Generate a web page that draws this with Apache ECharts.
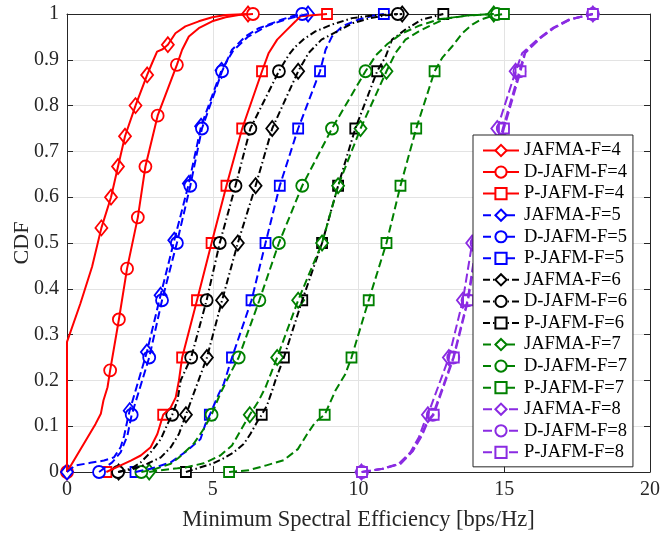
<!DOCTYPE html>
<html>
<head>
<meta charset="utf-8">
<script src="https://cdn.jsdelivr.net/npm/echarts@6/dist/echarts.min.js"></script>
<style>
  html, body { margin: 0; padding: 0; background: #fff; }
  #chart { width: 662px; height: 534px; }
</style>
</head>
<body>
<div id="chart"></div>
<script>
// Axis ticks
const xTicks = [0, 5, 10, 15, 20];
const yTicks = [0, 0.1, 0.2, 0.3, 0.4, 0.5, 0.6, 0.7, 0.8, 0.9, 1];

// ---- F = 4 ----
const jafmaF4 = [[0,0],[0,0.284],[0.46,0.368],[0.86,0.448],[1.18,0.533],[1.51,0.6],[1.75,0.667],[1.99,0.733],[2.35,0.8],[2.75,0.867],[2.92,0.893],[3.09,0.918],[3.28,0.923],[3.46,0.933],[3.72,0.958],[4.06,0.973],[4.52,0.984],[4.98,0.993],[5.44,0.998],[6.21,1]];
const jafmaF4Marks = [[0,0],[1.18,0.533],[1.51,0.6],[1.75,0.667],[1.99,0.733],[2.35,0.8],[2.75,0.867],[3.46,0.933],[6.21,1]];
const dJafmF4 = [[0,0],[0.98,0.105],[1.16,0.127],[1.25,0.156],[1.39,0.185],[1.48,0.222],[1.78,0.333],[2.06,0.444],[2.43,0.556],[2.69,0.667],[3.11,0.778],[3.77,0.889],[3.95,0.922],[4.18,0.951],[4.52,0.969],[4.98,0.984],[5.44,0.993],[5.89,0.998],[6.38,1]];
const dJafmF4Marks = [[0,0],[1.48,0.222],[1.78,0.333],[2.06,0.444],[2.43,0.556],[2.69,0.667],[3.11,0.778],[3.77,0.889],[6.38,1]];
const pJafmF4 = [[1.35,0],[2.19,0.025],[2.53,0.036],[2.87,0.054],[3.1,0.083],[3.3,0.125],[3.56,0.141],[3.73,0.163],[3.84,0.2],[3.95,0.25],[4.46,0.375],[4.96,0.5],[5.47,0.625],[6.01,0.75],[6.69,0.875],[6.92,0.915],[7.21,0.944],[7.49,0.962],[7.84,0.984],[8.01,0.995],[8.92,1]];
const pJafmF4Marks = [[1.35,0],[3.3,0.125],[3.95,0.25],[4.46,0.375],[4.96,0.5],[5.47,0.625],[6.01,0.75],[6.69,0.875],[8.92,1]];

// ---- F = 5 ----
const jafmaF5 = [[0,0],[0.27,0.014],[0.8,0.02],[1.27,0.025],[1.61,0.032],[1.84,0.054],[1.96,0.079],[2.07,0.112],[2.15,0.134],[2.74,0.262],[3.21,0.386],[3.68,0.506],[4.18,0.63],[4.6,0.755],[5.3,0.877],[5.7,0.92],[6.2,0.95],[6.9,0.975],[7.5,0.988],[7.9,0.995],[8.27,1]];
const jafmaF5Marks = [[0,0],[2.15,0.134],[2.74,0.262],[3.21,0.386],[3.68,0.506],[4.18,0.63],[4.6,0.755],[5.3,0.877],[8.27,1]];
const dJafmF5 = [[1.1,0],[1.55,0.021],[1.84,0.043],[2.07,0.079],[2.22,0.125],[2.82,0.25],[3.26,0.375],[3.77,0.5],[4.23,0.625],[4.63,0.75],[5.32,0.875],[5.66,0.922],[6.12,0.951],[6.58,0.969],[6.92,0.977],[7.38,0.988],[7.72,0.995],[8.07,1]];
const dJafmF5Marks = [[1.1,0],[2.22,0.125],[2.82,0.25],[3.26,0.375],[3.77,0.5],[4.23,0.625],[4.63,0.75],[5.32,0.875],[8.07,1]];
const pJafmF5 = [[2.35,0],[2.87,0.007],[3.56,0.021],[4.13,0.047],[4.58,0.072],[4.75,0.105],[4.9,0.125],[5.21,0.171],[5.38,0.193],[5.66,0.25],[6.33,0.375],[6.81,0.5],[7.3,0.625],[7.93,0.75],[8.68,0.875],[8.87,0.922],[9.09,0.951],[9.44,0.973],[10.01,0.988],[10.47,0.996],[10.87,1]];
const pJafmF5Marks = [[2.35,0],[4.9,0.125],[5.66,0.25],[6.33,0.375],[6.81,0.5],[7.3,0.625],[7.93,0.75],[8.68,0.875],[10.87,1]];

// ---- F = 6 ----
const jafmaF6 = [[1.77,0],[2.3,0.007],[2.76,0.018],[3.22,0.032],[3.56,0.054],[3.84,0.083],[4.08,0.125],[4.8,0.25],[5.32,0.375],[5.86,0.5],[6.47,0.625],[7.04,0.75],[7.93,0.875],[8.29,0.915],[8.73,0.944],[9.27,0.962],[9.8,0.98],[10.4,0.991],[10.93,0.997],[11.5,1]];
const jafmaF6Marks = [[1.77,0],[4.08,0.125],[4.8,0.25],[5.32,0.375],[5.86,0.5],[6.47,0.625],[7.04,0.75],[7.93,0.875],[11.5,1]];
const dJafmF6 = [[1.75,0],[2.19,0.007],[2.53,0.021],[2.87,0.043],[3.22,0.072],[3.45,0.105],[3.61,0.125],[3.79,0.156],[3.9,0.2],[4.26,0.25],[4.79,0.375],[5.24,0.5],[5.78,0.625],[6.29,0.75],[7.27,0.875],[7.61,0.911],[7.84,0.929],[8.1,0.944],[8.52,0.962],[9.09,0.977],[9.78,0.991],[10.5,0.997],[11.35,1]];
const dJafmF6Marks = [[1.75,0],[3.61,0.125],[4.26,0.25],[4.79,0.375],[5.24,0.5],[5.78,0.625],[6.29,0.75],[7.27,0.875],[11.35,1]];
const pJafmF6 = [[4.08,0],[4.52,0.009],[4.98,0.018],[5.32,0.028],[5.72,0.043],[6.06,0.061],[6.29,0.083],[6.52,0.109],[6.68,0.125],[6.86,0.145],[7.04,0.178],[7.15,0.2],[7.44,0.25],[8.07,0.375],[8.75,0.5],[9.3,0.625],[9.89,0.75],[10.64,0.875],[10.93,0.907],[11.15,0.944],[11.61,0.966],[12.18,0.988],[12.91,1]];
const pJafmF6Marks = [[4.08,0],[6.68,0.125],[7.44,0.25],[8.07,0.375],[8.75,0.5],[9.3,0.625],[9.89,0.75],[10.64,0.875],[12.91,1]];

// ---- F = 7 ----
const jafmaF7 = [[2.82,0],[3.22,0.004],[3.79,0.008],[4.06,0.01],[4.69,0.019],[5.26,0.036],[5.66,0.058],[5.95,0.09],[6.27,0.125],[6.58,0.156],[6.81,0.185],[7.21,0.25],[7.93,0.375],[8.75,0.5],[9.3,0.625],[10.07,0.75],[10.96,0.875],[11.27,0.915],[11.61,0.944],[12.07,0.962],[12.53,0.977],[13.0,0.99],[13.8,0.997],[14.64,1]];
const jafmaF7Marks = [[2.82,0],[6.27,0.125],[7.21,0.25],[7.93,0.375],[8.75,0.5],[9.3,0.625],[10.07,0.75],[10.96,0.875],[14.64,1]];
const dJafmF7 = [[2.55,0],[3.0,0.006],[3.56,0.018],[3.83,0.031],[4.35,0.062],[4.7,0.095],[4.96,0.125],[5.25,0.17],[5.6,0.215],[5.89,0.25],[6.6,0.375],[7.27,0.5],[8.07,0.625],[9.09,0.75],[10.24,0.875],[10.6,0.91],[11.0,0.935],[11.5,0.958],[12.1,0.975],[12.8,0.989],[13.8,0.997],[14.75,1]];
const dJafmF7Marks = [[2.55,0],[4.96,0.125],[5.89,0.25],[6.6,0.375],[7.27,0.5],[8.07,0.625],[9.09,0.75],[10.24,0.875],[14.75,1]];
const pJafmF7 = [[5.56,0],[6.24,0.004],[6.81,0.014],[7.44,0.026],[7.92,0.05],[8.24,0.083],[8.52,0.109],[8.84,0.125],[8.98,0.145],[9.21,0.178],[9.55,0.214],[9.76,0.25],[10.35,0.375],[10.96,0.5],[11.44,0.625],[11.98,0.75],[12.61,0.875],[12.87,0.904],[13.21,0.929],[13.56,0.958],[13.9,0.977],[14.2,0.988],[14.6,0.996],[14.99,1]];
const pJafmF7Marks = [[5.56,0],[8.84,0.125],[9.76,0.25],[10.35,0.375],[10.96,0.5],[11.44,0.625],[11.98,0.75],[12.61,0.875],[14.99,1]];

// ---- F = 8 ----
const jafmaF8 = [[10.1,0],[10.81,0.007],[11.38,0.018],[11.78,0.043],[12.07,0.076],[12.24,0.105],[12.38,0.125],[13.1,0.25],[13.58,0.375],[13.9,0.5],[14.3,0.625],[14.76,0.75],[15.39,0.875],[15.62,0.915],[16.19,0.947],[16.65,0.969],[17.22,0.988],[18.04,1]];
const jafmaF8Marks = [[10.1,0],[12.38,0.125],[13.1,0.25],[13.58,0.375],[13.9,0.5],[14.3,0.625],[14.76,0.75],[15.39,0.875],[18.04,1]];
const dJafmF8 = [[10.12,0],[10.83,0.007],[11.42,0.018],[11.84,0.045],[12.15,0.08],[12.35,0.11],[12.55,0.125],[13.25,0.25],[13.74,0.375],[14.05,0.5],[14.45,0.625],[14.95,0.75],[15.52,0.875],[15.7,0.915],[16.22,0.947],[16.68,0.969],[17.25,0.988],[18.04,1]];
const dJafmF8Marks = [[10.12,0],[12.55,0.125],[13.25,0.25],[13.74,0.375],[14.05,0.5],[14.45,0.625],[14.95,0.75],[15.52,0.875],[18.04,1]];
const pJafmF8 = [[10.12,0],[10.85,0.007],[11.45,0.018],[11.86,0.045],[12.18,0.08],[12.38,0.11],[12.58,0.125],[13.27,0.25],[13.76,0.375],[14.08,0.5],[14.48,0.625],[14.99,0.75],[15.56,0.875],[15.72,0.915],[16.24,0.947],[16.7,0.969],[17.27,0.988],[18.04,1]];
const pJafmF8Marks = [[10.12,0],[12.58,0.125],[13.27,0.25],[13.76,0.375],[14.08,0.5],[14.48,0.625],[14.99,0.75],[15.56,0.875],[18.04,1]];

// Line styles per group
const SOLID = 'solid';
const DASH = [8, 4];
const DASHDOT = [7, 3, 1.5, 3];
const PDASH = [9, 4];

const RED = '#ff0000', BLUE = '#0000ff', BLACK = '#000000', GREEN = '#008000', PURPLE = '#8a2be2';
const DIAMOND = { symbol: 'diamond', size: [12, 15] };
const CIRCLE = { symbol: 'circle', size: 12 };
const SQUARE = { symbol: 'rect', size: 10 };

const curves = [
  { name: 'JAFMA-F=4',  line: jafmaF4, marks: jafmaF4Marks, color: RED, dash: SOLID, mk: DIAMOND },
  { name: 'D-JAFM-F=4', line: dJafmF4, marks: dJafmF4Marks, color: RED, dash: SOLID, mk: CIRCLE },
  { name: 'P-JAFM-F=4', line: pJafmF4, marks: pJafmF4Marks, color: RED, dash: SOLID, mk: SQUARE },
  { name: 'JAFMA-F=5',  line: jafmaF5, marks: jafmaF5Marks, color: BLUE, dash: DASH, mk: DIAMOND },
  { name: 'D-JAFM-F=5', line: dJafmF5, marks: dJafmF5Marks, color: BLUE, dash: DASH, mk: CIRCLE },
  { name: 'P-JAFM-F=5', line: pJafmF5, marks: pJafmF5Marks, color: BLUE, dash: DASH, mk: SQUARE },
  { name: 'JAFMA-F=6',  line: jafmaF6, marks: jafmaF6Marks, color: BLACK, dash: DASHDOT, mk: DIAMOND },
  { name: 'D-JAFM-F=6', line: dJafmF6, marks: dJafmF6Marks, color: BLACK, dash: DASHDOT, mk: CIRCLE },
  { name: 'P-JAFM-F=6', line: pJafmF6, marks: pJafmF6Marks, color: BLACK, dash: DASHDOT, mk: SQUARE },
  { name: 'JAFMA-F=7',  line: jafmaF7, marks: jafmaF7Marks, color: GREEN, dash: DASH, mk: DIAMOND },
  { name: 'D-JAFM-F=7', line: dJafmF7, marks: dJafmF7Marks, color: GREEN, dash: DASH, mk: CIRCLE },
  { name: 'P-JAFM-F=7', line: pJafmF7, marks: pJafmF7Marks, color: GREEN, dash: DASH, mk: SQUARE },
  { name: 'JAFMA-F=8',  line: jafmaF8, marks: jafmaF8Marks, color: PURPLE, dash: PDASH, mk: DIAMOND },
  { name: 'D-JAFM-F=8', line: dJafmF8, marks: dJafmF8Marks, color: PURPLE, dash: PDASH, mk: CIRCLE },
  { name: 'P-JAFM-F=8', line: pJafmF8, marks: pJafmF8Marks, color: PURPLE, dash: PDASH, mk: SQUARE }
];

const FONT = 'Liberation Serif';
const AXIS_COLOR = '#262626';
const GRID_COLOR = '#e3e3e3';

const series = [];
curves.forEach(c => {
  series.push({
    name: c.name,
    type: 'line',
    data: c.line,
    showSymbol: false,
    symbol: c.mk.symbol,
    symbolSize: c.mk.size,
    lineStyle: { color: c.color, width: 2, type: c.dash },
    itemStyle: { color: '#ffffff', borderColor: c.color, borderWidth: 1.8 },
    emphasis: { disabled: true },
    silent: true
  });
  series.push({
    name: c.name,
    type: 'scatter',
    data: c.marks,
    symbol: c.mk.symbol,
    symbolSize: c.mk.size,
    itemStyle: { color: '#ffffff', borderColor: c.color, borderWidth: 1.8, opacity: 1 },
    emphasis: { disabled: true },
    silent: true
  });
});

const fmtY = v => (v === 0 ? '0' : v === 1 ? '1' : v.toFixed(1));

const option = {
  animation: false,
  backgroundColor: '#ffffff',
  textStyle: { fontFamily: FONT },
  grid: { left: 67, right: 12, top: 14, bottom: 62, containLabel: false, outerBoundsMode: 'none' },
  xAxis: [
    {
      type: 'value', min: xTicks[0], max: xTicks[xTicks.length - 1], interval: xTicks[1] - xTicks[0],
      position: 'bottom',
      name: 'Minimum Spectral Efficiency [bps/Hz]',
      nameLocation: 'middle', nameGap: 37,
      nameTextStyle: { fontFamily: FONT, fontSize: 22.5, color: AXIS_COLOR },
      axisLine: { show: true, onZero: false, lineStyle: { color: AXIS_COLOR, width: 1 } },
      axisTick: { show: true, inside: true, length: 6, lineStyle: { color: AXIS_COLOR } },
      axisLabel: { fontFamily: FONT, fontSize: 20, color: AXIS_COLOR, margin: 8 },
      splitLine: { show: true, lineStyle: { color: GRID_COLOR, width: 1 } }
    },
    {
      type: 'value', min: xTicks[0], max: xTicks[xTicks.length - 1], interval: xTicks[1] - xTicks[0],
      position: 'top',
      axisLine: { show: true, onZero: false, lineStyle: { color: AXIS_COLOR, width: 1 } },
      axisTick: { show: true, inside: true, length: 6, lineStyle: { color: AXIS_COLOR } },
      axisLabel: { show: false },
      splitLine: { show: false }
    }
  ],
  yAxis: [
    {
      type: 'value', min: yTicks[0], max: yTicks[yTicks.length - 1], interval: 0.1,
      position: 'left',
      name: 'CDF',
      nameLocation: 'middle', nameGap: 34, nameMoveOverlap: false,
      nameTextStyle: { fontFamily: FONT, fontSize: 22, color: AXIS_COLOR },
      axisLine: { show: true, onZero: false, lineStyle: { color: AXIS_COLOR, width: 1 } },
      axisTick: { show: true, inside: true, length: 6, lineStyle: { color: AXIS_COLOR } },
      axisLabel: { fontFamily: FONT, fontSize: 20, color: AXIS_COLOR, margin: 8, formatter: fmtY },
      splitLine: { show: true, lineStyle: { color: GRID_COLOR, width: 1 } }
    },
    {
      type: 'value', min: yTicks[0], max: yTicks[yTicks.length - 1], interval: 0.1,
      position: 'right',
      axisLine: { show: true, onZero: false, lineStyle: { color: AXIS_COLOR, width: 1 } },
      axisTick: { show: true, inside: true, length: 6, lineStyle: { color: AXIS_COLOR } },
      axisLabel: { show: false },
      splitLine: { show: false }
    }
  ],
  legend: {
    data: curves.map(c => c.name),
    orient: 'vertical',
    left: 473,
    top: 135,
    padding: [6, 6, 5, 9],
    itemGap: 2.56,
    itemWidth: 36,
    itemHeight: 14,
    selectedMode: false,
    backgroundColor: '#ffffff',
    borderColor: AXIS_COLOR,
    borderWidth: 1,
    borderRadius: 0,
    z: 10,
    textStyle: { fontFamily: FONT, fontSize: 18.5, color: '#000000', lineHeight: 18 }
  },
  series: series
};

const chart = echarts.init(document.getElementById('chart'), null, { renderer: 'canvas' });
chart.setOption(option);
</script>
</body>
</html>
